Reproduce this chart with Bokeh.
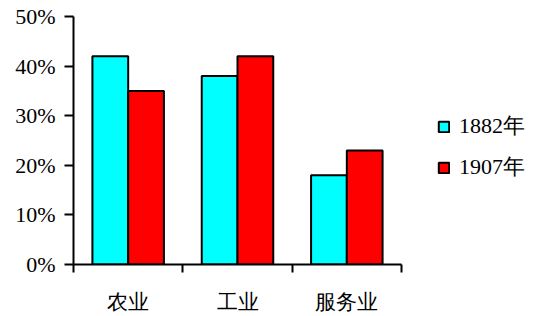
from bokeh.plotting import figure
from bokeh.models import (ColumnDataSource, Range1d, FixedTicker, PrintfTickFormatter,
                          Legend, LegendItem)
from bokeh.transform import dodge
from bokeh.embed import file_html
from bokeh.resources import INLINE

categories = ["农业", "工业", "服务业"]
series_1882 = [42, 38, 18]
series_1907 = [35, 42, 23]
series_names = ["1882年", "1907年"]
y_ticks = [0, 10, 20, 30, 40, 50]

FONT = "Liberation Serif"

src = ColumnDataSource(dict(
    x=[i + 0.5 for i in range(len(categories))],
    a=series_1882,
    b=series_1907,
))

n = len(categories)
# frame spans x=73..534 px; the category axis occupies 73..401 px
x_end = n * (534 - 73) / (401 - 73)

p = figure(width=534, height=316, output_backend="svg", toolbar_location=None,
           x_range=Range1d(0, x_end), y_range=Range1d(0, 50),
           min_border_left=73, min_border_right=0, min_border_top=16,
           min_border_bottom=52)
p.outline_line_color = None
p.xgrid.visible = False
p.ygrid.visible = False
p.background_fill_color = "white"
p.border_fill_color = "white"

bw = 0.327
r1 = p.vbar(x=dodge("x", -bw / 2, range=p.x_range), top="a", width=bw, source=src,
            fill_color="#00FFFF", line_color="black", line_width=2)
r2 = p.vbar(x=dodge("x", bw / 2, range=p.x_range), top="b", width=bw, source=src,
            fill_color="#FF0000", line_color="black", line_width=2)

# y axis
ya = p.yaxis[0]
ya.ticker = FixedTicker(ticks=y_ticks)
ya.formatter = PrintfTickFormatter(format="%d%%")
ya.major_tick_in = 0
ya.major_tick_out = 9
ya.minor_tick_line_color = None
ya.axis_line_width = 2
ya.major_tick_line_width = 2
ya.major_label_standoff = 9
ya.major_label_text_font = FONT
ya.major_label_text_font_size = "22px"
ya.major_label_text_color = "black"

# x axis
xa = p.xaxis[0]
xa.bounds = (0, n)
xa.ticker = FixedTicker(ticks=[i + 0.5 for i in range(n)],
                        minor_ticks=list(range(n + 1)))
xa.major_label_overrides = {i + 0.5: c for i, c in enumerate(categories)}
xa.major_tick_line_color = None
xa.major_tick_in = 0
xa.major_tick_out = 0
xa.minor_tick_in = 0
xa.minor_tick_out = 8
xa.minor_tick_line_width = 2
xa.minor_tick_line_color = "black"
xa.axis_line_width = 2
xa.major_label_standoff = 17
xa.major_label_text_font = FONT
xa.major_label_text_font_size = "21px"
xa.major_label_text_color = "black"

legend = Legend(items=[LegendItem(label=series_names[0], renderers=[r1]),
                       LegendItem(label=series_names[1], renderers=[r2])],
                location=(364, 82), padding=0, margin=0, spacing=11,
                border_line_color=None, background_fill_alpha=0,
                glyph_width=13, glyph_height=13, label_standoff=9,
                label_text_font=FONT, label_text_font_size="22px",
                label_height=22, label_text_color="black")
p.add_layout(legend, "center")

open("out.html", "w").write(file_html(p, INLINE))
